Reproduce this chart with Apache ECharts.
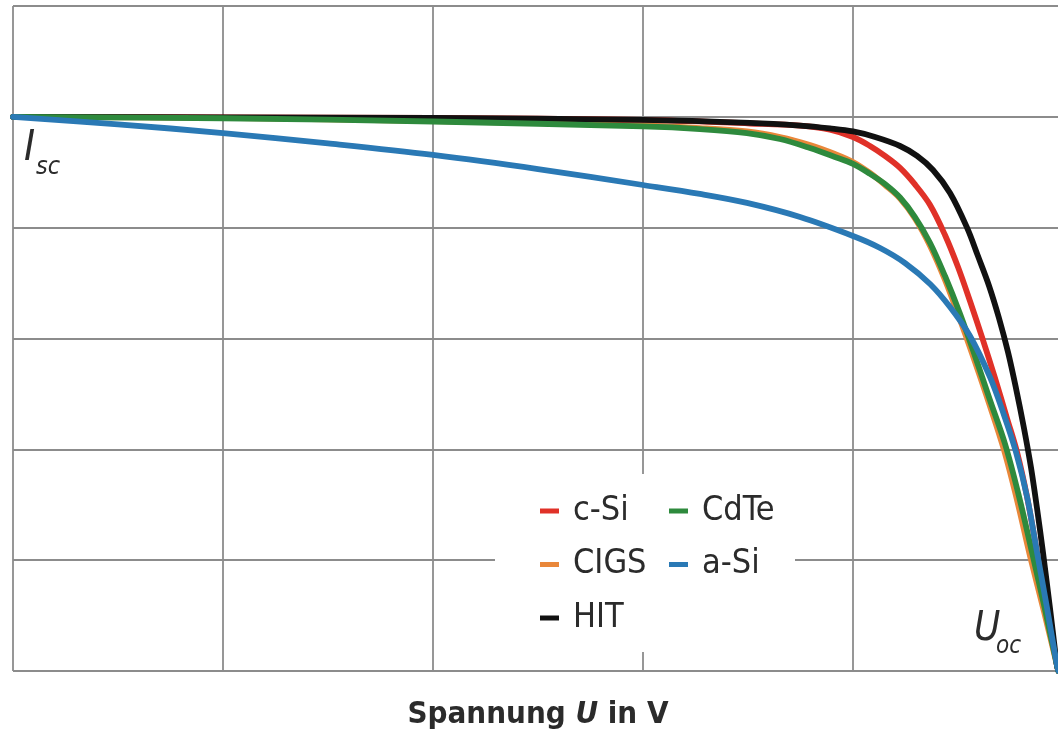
<!DOCTYPE html>
<html><head><meta charset="utf-8">
<script src="https://cdn.jsdelivr.net/npm/echarts@6/dist/echarts.min.js"></script>
<style>html,body{margin:0;padding:0;background:#fff}#c{width:1058px;height:743px}</style>
</head><body><div id="c"></div>
<script>
// Normalised I-U curves (x: voltage in grid units, y: current in grid units)
const seriesNames = ['c-Si', 'CdTe', 'CIGS', 'a-Si', 'HIT'];
const cSi  = [[0,5],[1,4.995],[2,4.99],[3,4.972],[3.51,4.94],[3.748,4.92],[3.89,4.884],[4.0,4.818],[4.081,4.737],[4.152,4.647],[4.224,4.539],[4.295,4.39],[4.367,4.205],[4.438,3.934],[4.5,3.645],[4.557,3.338],[4.614,3.014],[4.676,2.644],[4.733,2.283],[4.781,1.976],[4.829,1.57],[4.876,1.074],[4.924,0.568],[4.971,0.054],[4.978,0]];
const cdTe = [[0,5],[1,4.987],[2,4.958],[3,4.913],[3.271,4.89],[3.495,4.854],[3.652,4.8],[3.795,4.719],[3.914,4.638],[4.0,4.575],[4.081,4.485],[4.152,4.394],[4.224,4.272],[4.295,4.096],[4.367,3.862],[4.438,3.564],[4.51,3.221],[4.581,2.842],[4.652,2.445],[4.724,2.048],[4.79,1.579],[4.852,1.074],[4.914,0.559],[4.971,0.054],[4.978,0]];
const cigs = [[0,5],[1,4.99],[2,4.962],[3,4.922],[3.271,4.899],[3.495,4.868],[3.652,4.818],[3.795,4.746],[3.914,4.665],[4.0,4.593],[4.081,4.494],[4.152,4.385],[4.224,4.263],[4.295,4.083],[4.367,3.835],[4.438,3.528],[4.51,3.167],[4.581,2.788],[4.652,2.391],[4.719,1.994],[4.781,1.543],[4.843,1.038],[4.91,0.532],[4.971,0.054],[4.978,0]];
const aSi  = [[0,5],[0.5,4.932],[1,4.854],[1.5,4.76],[2,4.656],[2.5,4.529],[3,4.385],[3.271,4.304],[3.495,4.223],[3.748,4.096],[4.0,3.925],[4.129,3.817],[4.248,3.681],[4.367,3.492],[4.462,3.284],[4.557,3.023],[4.652,2.653],[4.719,2.31],[4.776,1.976],[4.829,1.57],[4.876,1.074],[4.924,0.568],[4.971,0.054],[4.978,0]];
const hit  = [[0,5],[1,4.995],[2,4.99],[3,4.972],[3.51,4.945],[3.748,4.92],[3.89,4.895],[4.0,4.868],[4.105,4.818],[4.224,4.737],[4.305,4.647],[4.381,4.52],[4.462,4.313],[4.543,4.0],[4.595,3.744],[4.648,3.474],[4.695,3.185],[4.738,2.878],[4.776,2.553],[4.814,2.193],[4.848,1.832],[4.876,1.471],[4.905,1.065],[4.938,0.568],[4.971,0.054],[4.978,0]];
const xRange = [0, 5];
const yRange = [0, 6];
const axisTitle = ['Spannung ', 'U', ' in V'];
const legendCol1 = ['c-Si', 'CIGS', 'HIT'];
const legendCol2 = ['CdTe', 'a-Si'];

const FONT = '"Liberation Sans Narrow","DejaVu Sans Condensed","Roboto Condensed",sans-serif';
const TXT = '#2b2b2b';
const chart = echarts.init(document.getElementById('c'), null, {renderer: 'canvas'});

function lineSeries(name, data, color, z) {
  return {
    name, type: 'line', data, color, smooth: 0.35,
    symbol: 'none', z, lineStyle: {width: 5.8, color, cap: 'round', join: 'round'}
  };
}

const legendBase = {
  orient: 'vertical', icon: 'rect', itemWidth: 19, itemHeight: 5, itemGap: 19.5,
  padding: 0, selectedMode: false, z: 10,
  textStyle: {fontFamily: FONT, fontSize: 34, color: TXT, lineHeight: 34, padding: [0, 0, 0, 9]}
};

chart.setOption({
  animation: false,
  backgroundColor: '#ffffff',
  grid: {left: 13, top: 6, width: 1050, height: 665, containLabel: false, outerBoundsMode: 'none'},
  xAxis: {
    type: 'value', min: xRange[0], max: xRange[1], interval: 1,
    axisLine: {show: false}, axisTick: {show: false}, axisLabel: {show: false},
    splitLine: {show: true, lineStyle: {color: '#8c8c8c', width: 1.8}},
    name: '{b|' + axisTitle[0] + '}{i|' + axisTitle[1] + '}{b|' + axisTitle[2] + '}',
    nameLocation: 'middle', nameGap: 28,
    nameTextStyle: {
      rich: {
        b: {fontFamily: FONT, fontWeight: 'bold', fontSize: 31, color: TXT},
        i: {fontFamily: FONT, fontWeight: 'bold', fontStyle: 'italic', fontSize: 31, color: TXT}
      }
    }
  },
  yAxis: {
    type: 'value', min: yRange[0], max: yRange[1], interval: 1,
    axisLine: {show: false}, axisTick: {show: false}, axisLabel: {show: false},
    splitLine: {show: true, lineStyle: {color: '#8c8c8c', width: 1.8}}
  },
  legend: [
    Object.assign({}, legendBase, {left: 540, top: 494, data: legendCol1}),
    Object.assign({}, legendBase, {left: 669, top: 494, data: legendCol2})
  ],
  graphic: [
    {type: 'rect', z: 5, shape: {x: 495, y: 474, width: 300, height: 178}, style: {fill: '#ffffff'}},
    {type: 'text', z: 6, x: 24, y: 149, style: {text: 'I', font: 'italic 42px ' + FONT, fill: TXT, verticalAlign: 'middle'}},
    {type: 'text', z: 6, x: 36, y: 167, style: {text: 'sc', font: 'italic 25px ' + FONT, fill: TXT, verticalAlign: 'middle'}},
    {type: 'text', z: 6, x: 974, y: 630, style: {text: 'U', font: 'italic 40px ' + FONT, fill: TXT, verticalAlign: 'middle'}},
    {type: 'text', z: 6, x: 996, y: 647, style: {text: 'oc', font: 'italic 24px ' + FONT, fill: TXT, verticalAlign: 'middle'}}
  ],
  series: [
    lineSeries('CIGS', cigs, '#e9873a', 2),
    lineSeries('c-Si', cSi, '#e03128', 3),
    lineSeries('HIT', hit, '#111111', 4),
    lineSeries('CdTe', cdTe, '#2e8a3d', 5),
    lineSeries('a-Si', aSi, '#2a79b5', 6)
  ]
});
</script>
</body></html>
